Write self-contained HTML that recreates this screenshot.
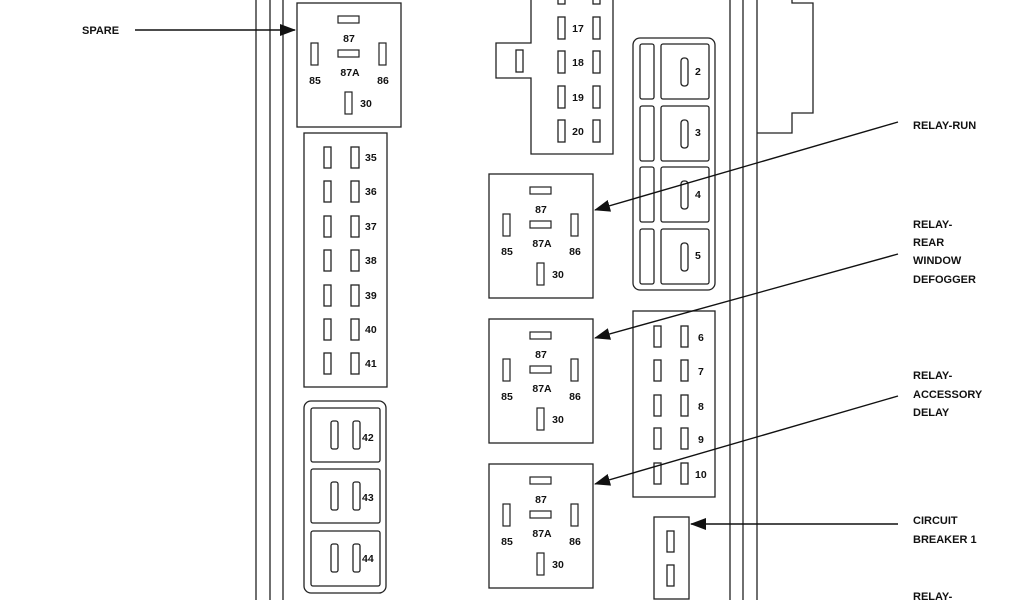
<!DOCTYPE html>
<html><head><meta charset="utf-8"><style>
html,body{margin:0;padding:0;background:#fff;}
svg{display:block;}
text{font-family:"Liberation Sans",Arial,sans-serif;font-weight:bold;fill:#111;}
.p{font-size:10.5px;text-anchor:middle;}
.l{font-size:10.5px;}
.c{font-size:11px;}
</style></head><body>
<svg width="1024" height="600" viewBox="0 0 1024 600" xmlns="http://www.w3.org/2000/svg">
<defs>
<marker id="ah" markerWidth="16" markerHeight="12" refX="15" refY="6" orient="auto" markerUnits="userSpaceOnUse">
<path d="M0,0 L16,6 L0,12 Z" fill="#111"/></marker>
<g id="relay">
<rect x="0" y="0" width="104" height="124" fill="none" stroke="#222" stroke-width="1.3"/>
<rect x="41" y="13" width="21" height="7" fill="none" stroke="#222" stroke-width="1.2"/>
<text class="p" x="52" y="39">87</text>
<rect x="41" y="47" width="21" height="7" fill="none" stroke="#222" stroke-width="1.2"/>
<text class="p" x="53" y="73">87A</text>
<rect x="14" y="40" width="7" height="22" fill="none" stroke="#222" stroke-width="1.2"/>
<text class="p" x="18" y="81">85</text>
<rect x="82" y="40" width="7" height="22" fill="none" stroke="#222" stroke-width="1.2"/>
<text class="p" x="86" y="81">86</text>
<rect x="48" y="89" width="7" height="22" fill="none" stroke="#222" stroke-width="1.2"/>
<text class="p" x="69" y="104">30</text>
</g>
</defs>
<g stroke="#222" stroke-width="1.3" fill="none">
<line x1="256" y1="0" x2="256" y2="600"/><line x1="270" y1="0" x2="270" y2="600"/><line x1="283" y1="0" x2="283" y2="600"/>
<line x1="730" y1="0" x2="730" y2="600"/><line x1="743" y1="0" x2="743" y2="600"/><line x1="757" y1="0" x2="757" y2="600"/>
<polyline points="792,0 792,3 813,3 813,113 792,113 792,133 757,133"/>
<polyline points="531,0 531,43 496,43 496,78 531,78 531,154 613,154 613,0"/>
<rect x="516" y="50" width="7" height="22"/>
<rect x="558" y="-6" width="7" height="10"/><rect x="593" y="-6" width="7" height="10"/>
<rect x="558" y="17" width="7" height="22"/><rect x="593" y="17" width="7" height="22"/>
<rect x="558" y="51" width="7" height="22"/><rect x="593" y="51" width="7" height="22"/>
<rect x="558" y="86" width="7" height="22"/><rect x="593" y="86" width="7" height="22"/>
<rect x="558" y="120" width="7" height="22"/><rect x="593" y="120" width="7" height="22"/>
<rect x="304" y="133" width="83" height="254"/>
<rect x="324" y="147" width="7" height="21"/><rect x="351" y="147" width="8" height="21"/>
<rect x="324" y="181" width="7" height="21"/><rect x="351" y="181" width="8" height="21"/>
<rect x="324" y="216" width="7" height="21"/><rect x="351" y="216" width="8" height="21"/>
<rect x="324" y="250" width="7" height="21"/><rect x="351" y="250" width="8" height="21"/>
<rect x="324" y="285" width="7" height="21"/><rect x="351" y="285" width="8" height="21"/>
<rect x="324" y="319" width="7" height="21"/><rect x="351" y="319" width="8" height="21"/>
<rect x="324" y="353" width="7" height="21"/><rect x="351" y="353" width="8" height="21"/>
<rect x="304" y="401" width="82" height="192" rx="7"/>
<rect x="311" y="408" width="69" height="54" rx="2"/>
<rect x="311" y="469" width="69" height="54" rx="2"/>
<rect x="311" y="531" width="69" height="55" rx="2"/>
<rect x="331" y="421" width="7" height="28" rx="2"/><rect x="353" y="421" width="7" height="28" rx="2"/>
<rect x="331" y="482" width="7" height="28" rx="2"/><rect x="353" y="482" width="7" height="28" rx="2"/>
<rect x="331" y="544" width="7" height="28" rx="2"/><rect x="353" y="544" width="7" height="28" rx="2"/>
<rect x="633" y="38" width="82" height="252" rx="7"/>
<rect x="640" y="44" width="14" height="55" rx="2"/><rect x="661" y="44" width="48" height="55" rx="2"/>
<rect x="640" y="106" width="14" height="55" rx="2"/><rect x="661" y="106" width="48" height="55" rx="2"/>
<rect x="640" y="167" width="14" height="55" rx="2"/><rect x="661" y="167" width="48" height="55" rx="2"/>
<rect x="640" y="229" width="14" height="55" rx="2"/><rect x="661" y="229" width="48" height="55" rx="2"/>
<rect x="681" y="58" width="7" height="28" rx="3"/>
<rect x="681" y="120" width="7" height="28" rx="3"/>
<rect x="681" y="181" width="7" height="28" rx="3"/>
<rect x="681" y="243" width="7" height="28" rx="3"/>
<rect x="633" y="311" width="82" height="186"/>
<rect x="654" y="326" width="7" height="21"/><rect x="681" y="326" width="7" height="21"/>
<rect x="654" y="360" width="7" height="21"/><rect x="681" y="360" width="7" height="21"/>
<rect x="654" y="395" width="7" height="21"/><rect x="681" y="395" width="7" height="21"/>
<rect x="654" y="428" width="7" height="21"/><rect x="681" y="428" width="7" height="21"/>
<rect x="654" y="463" width="7" height="21"/><rect x="681" y="463" width="7" height="21"/>
<rect x="654" y="517" width="35" height="82"/>
<rect x="667" y="531" width="7" height="21"/><rect x="667" y="565" width="7" height="21"/>
</g>
<g>
<text class="p" x="578" y="32">17</text><text class="p" x="578" y="66">18</text>
<text class="p" x="578" y="101">19</text><text class="p" x="578" y="135">20</text>
<text class="l" x="365" y="161">35</text><text class="l" x="365" y="195">36</text>
<text class="l" x="365" y="230">37</text><text class="l" x="365" y="264">38</text>
<text class="l" x="365" y="299">39</text><text class="l" x="365" y="333">40</text>
<text class="l" x="365" y="367">41</text>
<text class="l" x="362" y="441">42</text><text class="l" x="362" y="501">43</text><text class="l" x="362" y="562">44</text>
<text class="l" x="695" y="75">2</text><text class="l" x="695" y="136">3</text>
<text class="l" x="695" y="198">4</text><text class="l" x="695" y="259">5</text>
<text class="l" x="698" y="341">6</text><text class="l" x="698" y="375">7</text>
<text class="l" x="698" y="410">8</text><text class="l" x="698" y="443">9</text>
<text class="l" x="695" y="478">10</text>
</g>
<use href="#relay" x="297" y="3"/>
<use href="#relay" x="489" y="174"/>
<use href="#relay" x="489" y="319"/>
<use href="#relay" x="489" y="464"/>
<g stroke="#111" stroke-width="1.4" fill="none" marker-end="url(#ah)">
<line x1="135" y1="30" x2="295" y2="30"/>
<line x1="898" y1="122" x2="595" y2="210"/>
<line x1="898" y1="254" x2="595" y2="338"/>
<line x1="898" y1="396" x2="595" y2="484"/>
<line x1="898" y1="524" x2="691" y2="524"/>
</g>
<g>
<text class="c" x="82" y="34">SPARE</text>
<text class="c" x="913" y="129">RELAY-RUN</text>
<text class="c" x="913" y="228">RELAY-</text>
<text class="c" x="913" y="246">REAR</text>
<text class="c" x="913" y="264">WINDOW</text>
<text class="c" x="913" y="283">DEFOGGER</text>
<text class="c" x="913" y="379">RELAY-</text>
<text class="c" x="913" y="398">ACCESSORY</text>
<text class="c" x="913" y="416">DELAY</text>
<text class="c" x="913" y="524">CIRCUIT</text>
<text class="c" x="913" y="543">BREAKER 1</text>
<text class="c" x="913" y="600">RELAY-</text>
</g>
</svg>
</body></html>
